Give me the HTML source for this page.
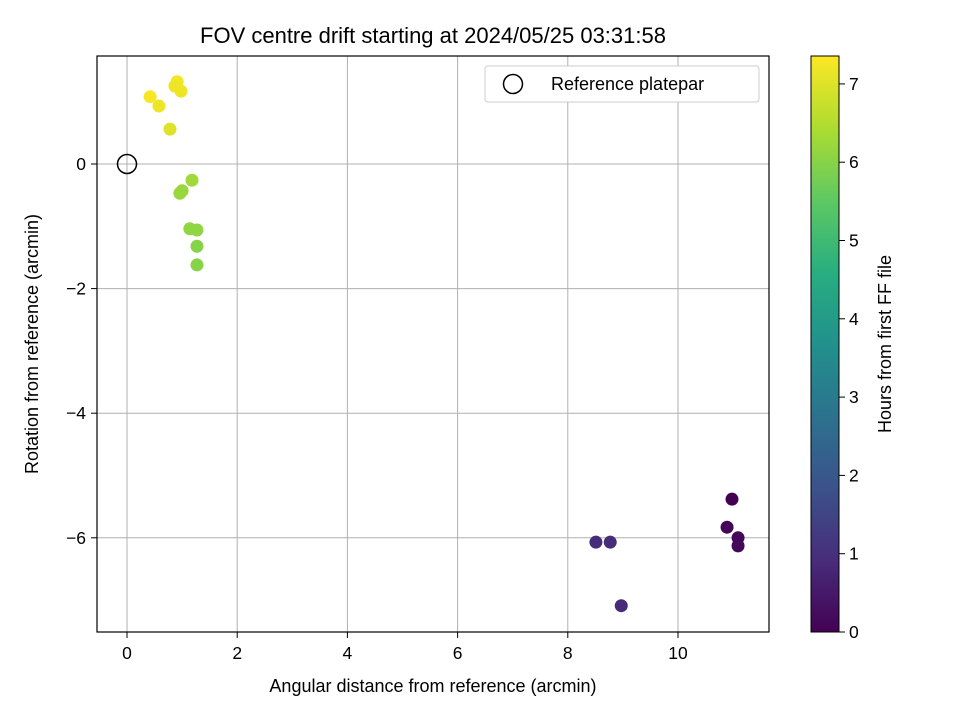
<!DOCTYPE html>
<html><head><meta charset="utf-8"><style>
body{margin:0;background:#fff;}
svg text{font-family:"Liberation Sans","DejaVu Sans",sans-serif;fill:#000;}
</style></head><body>
<svg width="960" height="720" xmlns="http://www.w3.org/2000/svg">
<defs><linearGradient id="vir" x1="0" y1="1" x2="0" y2="0">
<stop offset="0" stop-color="#440154"/><stop offset="0.125" stop-color="#472d7b"/><stop offset="0.25" stop-color="#3b528b"/><stop offset="0.375" stop-color="#2c728e"/><stop offset="0.5" stop-color="#21918c"/><stop offset="0.625" stop-color="#28ae80"/><stop offset="0.75" stop-color="#5ec962"/><stop offset="0.875" stop-color="#addc30"/><stop offset="1" stop-color="#fde725"/>
</linearGradient></defs>
<text x="433" y="43" font-size="22" text-anchor="middle">FOV centre drift starting at 2024/05/25 03:31:58</text>
<g id="grid"></g>
<g id="points"></g>
<rect x="97" y="56" width="672" height="576" fill="none" stroke="#000" stroke-width="1.2"/>
<g id="ticks"></g>
<text x="433" y="692" font-size="18" text-anchor="middle">Angular distance from reference (arcmin)</text>
<text transform="translate(38,344) rotate(-90)" font-size="18" text-anchor="middle">Rotation from reference (arcmin)</text>
<g>
<rect x="485" y="66" width="274" height="36" rx="3" fill="#fff" stroke="#ccc"/>
<circle cx="513" cy="84" r="9.5" fill="none" stroke="#000" stroke-width="1.5"/>
<text x="551" y="90" font-size="18">Reference platepar</text>
</g>
<rect x="811" y="56" width="28" height="576" fill="url(#vir)" stroke="#000" stroke-width="1"/>
<g id="cticks"></g>
<text transform="translate(891,344) rotate(-90)" font-size="18" text-anchor="middle">Hours from first FF file</text>
</svg>
<script>
const xs=[0.42,0.58,0.78,0.91,0.87,0.98,1.18,0.96,1.0,1.14,1.27,1.27,1.27,8.51,8.77,8.97,10.98,10.89,11.09,11.09];
const ys=[1.08,0.93,0.56,1.32,1.25,1.17,-0.26,-0.47,-0.43,-1.04,-1.06,-1.32,-1.62,-6.07,-6.07,-7.09,-5.38,-5.83,-6.0,-6.13];
const hours=[7.3,7.2,7.0,7.25,7.2,7.2,6.3,6.2,6.2,6.1,6.1,6.0,6.0,0.9,0.9,0.85,0.0,0.1,0.15,0.15];
const xTicks=[0,2,4,6,8,10];
const yTicks=[0,-2,-4,-6];
const cTicks=[0,1,2,3,4,5,6,7];
const X=v=>127+(v)*55.1, Y=v=>164-v*62.3, C=v=>632-v*78.3;
const vir=[[68,1,84],[71,45,123],[59,82,139],[44,114,142],[33,145,140],[40,174,128],[94,201,98],[173,220,48],[253,231,37]];
function col(h){let t=Math.max(0,Math.min(1,h/7.36))*8,i=Math.min(7,Math.floor(t)),f=t-i;
return 'rgb('+vir[i].map((c,k)=>Math.round(c+(vir[i+1][k]-c)*f)).join(',')+')';}
const NS='http://www.w3.org/2000/svg';
function mk(p,t,a){const e=document.createElementNS(NS,t);for(const k in a)e.setAttribute(k,a[k]);p.appendChild(e);return e;}
const g=document.getElementById('grid'),tk=document.getElementById('ticks'),pt=document.getElementById('points'),ct=document.getElementById('cticks');
xTicks.forEach(v=>{const x=X(v);
const l=mk(g,'line',{x1:x,x2:x,y1:56,y2:632,stroke:'#b0b0b0','stroke-width':1});


mk(tk,'line',{x1:x,x2:x,y1:632,y2:638,stroke:'#000'});
const t=mk(tk,'text',{x:x,y:659,'font-size':17.5,'text-anchor':'middle'});t.textContent=v;

});
yTicks.forEach(v=>{const y=Y(v);
const l=mk(g,'line',{x1:97,x2:769,y1:y,y2:y,stroke:'#b0b0b0','stroke-width':1});


mk(tk,'line',{x1:91,x2:97,y1:y,y2:y,stroke:'#000'});
const t=mk(tk,'text',{x:86,y:y+6,'font-size':17.5,'text-anchor':'end'});t.textContent=v<0?'\u2212'+(-v):v;

});
cTicks.forEach(v=>{const y=C(v);
mk(ct,'line',{x1:839,x2:845,y1:y,y2:y,stroke:'#000'});
const t=mk(ct,'text',{x:849,y:y+6,'font-size':17.5});t.textContent=v;

});
const ref=mk(pt,'circle',{cx:X(0),cy:Y(0),r:9.5,fill:'none',stroke:'#000','stroke-width':1.5});


xs.forEach((v,i)=>{const c=mk(pt,'circle',{cx:X(v),cy:Y(ys[i]),r:6.5,fill:col(hours[i])});

});
</script>
</body></html>
